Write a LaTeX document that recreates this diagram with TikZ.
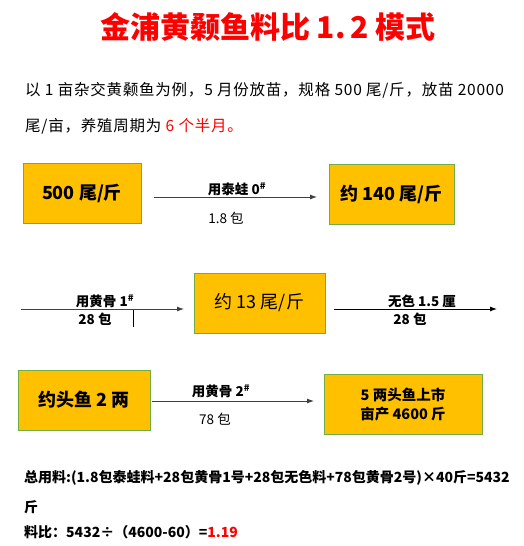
\documentclass[tikz,border=0pt]{standalone}
\usepackage{fontspec}
\setmainfont{Noto Sans CJK SC}
\usetikzlibrary{arrows.meta}
\definecolor{boxfill}{HTML}{FFC000}
\definecolor{boxline}{HTML}{70AD47}
\definecolor{arr}{HTML}{404040}
\definecolor{tred}{HTML}{FF0000}
\begin{document}
\begin{tikzpicture}[x=1pt,y=-1pt,
  fishbox/.style={draw=boxline,line width=0.9pt,fill=boxfill,inner sep=0pt,align=center,font=\bfseries\fontsize{18}{20}\selectfont},
  flow/.style={draw=arr,line width=0.9pt,-{Latex[length=7pt,width=5pt]}},
  lab/.style={inner sep=0pt,font=\bfseries\fontsize{13.5}{15}\selectfont},
  sublab/.style={inner sep=0pt,font=\fontsize{13.5}{15}\selectfont},
  txt/.style={inner sep=0pt,anchor=west,font=\fontsize{15.5}{17}\selectfont\addfontfeature{LetterSpace=5}},
  btxt/.style={inner sep=0pt,anchor=west,font=\bfseries\fontsize{14}{17}\selectfont}]
\useasboundingbox (0,0) rectangle (523,546);
% title
\node[inner sep=0pt,text=tred,font=\bfseries\fontsize{30}{32}\selectfont] (title) at (268,27) {金浦黄颡鱼料比 1.\,2 模式};
% intro
\node[txt] (p1) at (25,90) {以 1 亩杂交黄颡鱼为例，5 月份放苗，规格 500 尾/斤，放苗 20000};
\node[txt] (p2) at (25,126) {尾/亩，养殖周期为 \textcolor{tred}{6 个半月。}};
% boxes
\node[fishbox,minimum width=118pt,minimum height=60pt] (b1) at (82,193) {500 尾/斤};
\node[fishbox,minimum width=125pt,minimum height=60pt] (b2) at (391.5,194) {约 140 尾/斤};
\node[fishbox,minimum width=131pt,minimum height=60pt,font=\fontsize{18}{20}\selectfont] (b3) at (259.5,303) {约 13 尾/斤};
\node[fishbox,minimum width=132pt,minimum height=60pt] (b4) at (84,400) {约头鱼 2 两};
\node[fishbox,minimum width=158pt,minimum height=60pt,font=\bfseries\fontsize{14.5}{19}\selectfont] (b5) at (403,404) {5 两头鱼上市\\亩产 4600 斤};
% connector end points
\coordinate (a1s) at (154,197);
\coordinate (a1e) at (317,197);
\coordinate (a2s) at (21,309);
\coordinate (a2e) at (184,309);
\coordinate (a3s) at (334,309);
\coordinate (a3e) at (497,309);
\coordinate (a4s) at (152,401);
\coordinate (a4e) at (314,401);
\draw[flow] (a1s) -- (a1e);
\draw[flow] (a2s) -- (a2e);
\draw[flow,draw=black] (a3s) -- (a3e);
\draw[flow] (a4s) -- (a4e);
% tick
\coordinate (t1) at (133,310);
\coordinate (t2) at (133,327);
\draw[line width=1pt] (t1) -- (t2);
% labels
\node[lab] (l1) at (237,189) {用泰蛙 0\textsuperscript{\#}};
\node[sublab] (l1b) at (226,218) {1.8 包};
\node[lab] (l2) at (105,301) {用黄骨 1\textsuperscript{\#}};
\node[lab] (l2b) at (95,319) {28 包};
\node[lab] (l3) at (422,301) {无色 1.5 厘};
\node[lab] (l3b) at (410,319) {28 包};
\node[lab] (l4) at (221,391) {用黄骨 2\textsuperscript{\#}};
\node[sublab] (l4b) at (215,419) {78 包};
% bottom
\node[btxt] (s1) at (24,478) {总用料:(1.8包泰蛙料+28包黄骨1号+28包无色料+78包黄骨2号)×40斤=5432};
\node[btxt] (s2) at (24,507) {斤};
\node[btxt] (s3) at (24,532) {料比：5432÷（4600-60）=\textcolor{tred}{1.19}};
\end{tikzpicture}
\end{document}
